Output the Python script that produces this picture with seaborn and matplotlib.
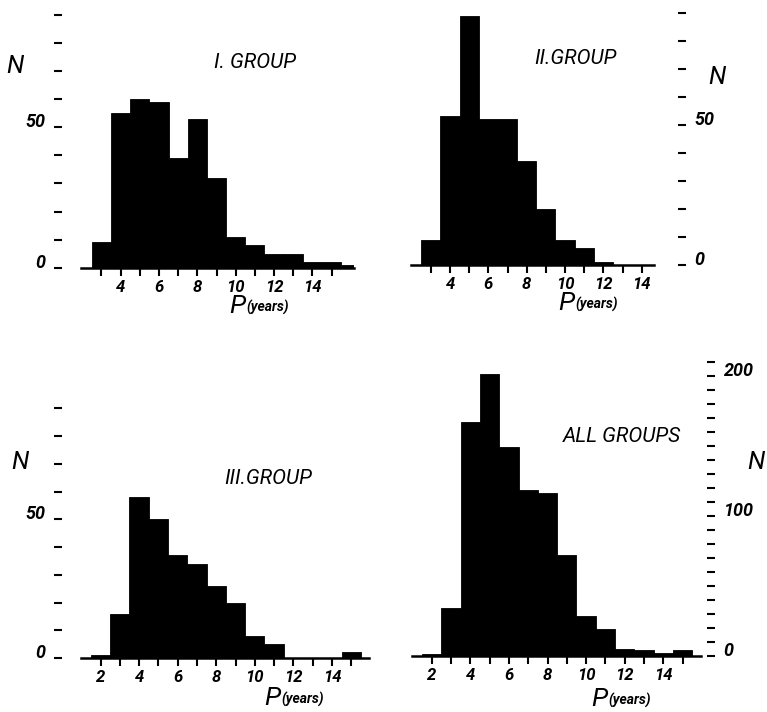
import matplotlib
matplotlib.use("Agg")
import matplotlib.pyplot as plt
import pandas as pd
import seaborn as sns

# Period bins (years, 1-year wide, centred on integers) and counts per group
periods = list(range(2, 17))
group_i = [0, 9, 55, 60, 59, 39, 53, 32, 11, 8, 5, 5, 2, 2, 1]
group_ii = [0, 9, 53, 89, 52, 52, 37, 20, 9, 6, 1, 0, 0, 0, 0]
group_iii = [1, 16, 58, 50, 37, 34, 26, 20, 8, 5, 0, 0, 0, 2, 0]
group_all = [1, 34, 167, 201, 149, 118, 116, 72, 28, 19, 5, 4, 2, 4, 0]

titles = ["I. GROUP", "II.GROUP", "III.GROUP", "ALL GROUPS"]

sns.set_style("white")
FONT = ["Liberation Sans Narrow", "Roboto", "DejaVu Sans"]
plt.rcParams["font.family"] = FONT
plt.rcParams["text.color"] = "black"
plt.rcParams["xtick.color"] = "black"
plt.rcParams["ytick.color"] = "black"
plt.rcParams["xtick.labelcolor"] = "black"
plt.rcParams["ytick.labelcolor"] = "black"

W, H = 767, 712
fig = plt.figure(figsize=(W / 100, H / 100), dpi=100)


def px_axes(left, top, right, bottom):
    return fig.add_axes([left / W, 1 - bottom / H, (right - left) / W, (bottom - top) / H])


def px_text(x, y, s, **kw):
    fig.text(x / W, 1 - y / H, s, **kw)


panels = [
    dict(counts=group_i, rect=(62, 15.1, 354, 267.7), xlim=(0.94, 16.17), base=(1.93, 16.17),
         ymax=90, xt=range(3, 16), xl=[4, 6, 8, 10, 12, 14], yt=range(0, 91, 10), yl=[0, 50], side="left"),
    dict(counts=group_ii, rect=(410.7, 12.7, 678, 265), xlim=(1.95, 15.89), base=(1.95, 14.64),
         ymax=90, xt=range(3, 15), xl=[4, 6, 8, 10, 12, 14], yt=range(0, 91, 10), yl=[0, 50], side="right"),
    dict(counts=group_iii, rect=(62, 408.3, 369.3, 658), xlim=(0.0, 15.94), base=(0.98, 15.94),
         ymax=90, xt=range(2, 16), xl=[2, 4, 6, 8, 10, 12, 14], yt=range(0, 91, 10), yl=[0, 50], side="left"),
    dict(counts=group_all, rect=(412.3, 361.7, 707, 655.5), xlim=(0.995, 16.26), base=(0.995, 15.97),
         ymax=210, xt=range(2, 16), xl=[2, 4, 6, 8, 10, 12, 14], yt=range(0, 211, 10), yl=[0, 100, 200], side="right"),
]

for p in panels:
    ax = px_axes(*p["rect"])
    df = pd.DataFrame({"period": periods, "count": p["counts"]})
    df = df[df["count"] > 0]
    sns.histplot(data=df, x="period", weights="count", discrete=True, ax=ax,
                 color="black", alpha=1, edgecolor="black", linewidth=0.6)
    ax.set_xlim(*p["xlim"])
    ax.set_ylim(0, p["ymax"])
    ax.set_xlabel("")
    ax.set_ylabel("")
    for s in ["top", "left", "right"]:
        ax.spines[s].set_visible(False)
    ax.spines["bottom"].set_bounds(*p["base"])
    ax.spines["bottom"].set_linewidth(1.8)
    ax.spines["bottom"].set_color("black")

    ax.set_xticks(list(p["xt"]))
    ax.set_xticklabels([str(t) if t in p["xl"] else "" for t in p["xt"]])
    ax.tick_params(axis="x", bottom=True, top=False, direction="out", length=6, width=1.5,
                   color="black", labelcolor="black", pad=3, labelsize=12)
    for lab in ax.get_xticklabels():
        lab.set_fontstyle("italic")
        lab.set_fontweight("bold")

    ax.set_yticks(list(p["yt"]))
    ax.set_yticklabels([str(t) if t in p["yl"] else "" for t in p["yt"]])
    if p["side"] == "right":
        ax.yaxis.tick_right()
        ax.tick_params(axis="y", left=False, right=True, labelleft=False, labelright=True)
    else:
        ax.tick_params(axis="y", left=True, right=False)
    ax.tick_params(axis="y", direction="out", length=6, width=1.5, color="black",
                   labelcolor="black", pad=6, labelsize=13)
    for lab in ax.get_yticklabels():
        lab.set_fontstyle("italic")
        lab.set_fontweight("bold")
        lab.set_verticalalignment("baseline")
    ax.grid(False)
    ax.set_facecolor("none")

# Group titles
title_pos = [(255, 62), (575, 58), (268, 479), (622, 437)]
for (x, y), t in zip(title_pos, titles):
    px_text(x, y, t, ha="center", va="center", fontsize=15, fontstyle="italic")

# Axis names
for x, y in [(15, 66), (717, 77), (20, 462), (756, 462)]:
    px_text(x, y, "N", ha="center", va="center", fontsize=18, fontstyle="italic")

# P (years): baseline positions of the axis names under each panel
for x, y in [(245, 313), (574, 310), (280, 705), (607, 706)]:
    px_text(x, y, "P", ha="right", va="baseline", fontsize=19, fontstyle="italic")
    px_text(x + 1, y - 1, "(years)", ha="left", va="baseline", fontsize=10,
            fontstyle="italic", fontweight="bold")

fig.savefig("out.png", dpi=100, facecolor="white")
